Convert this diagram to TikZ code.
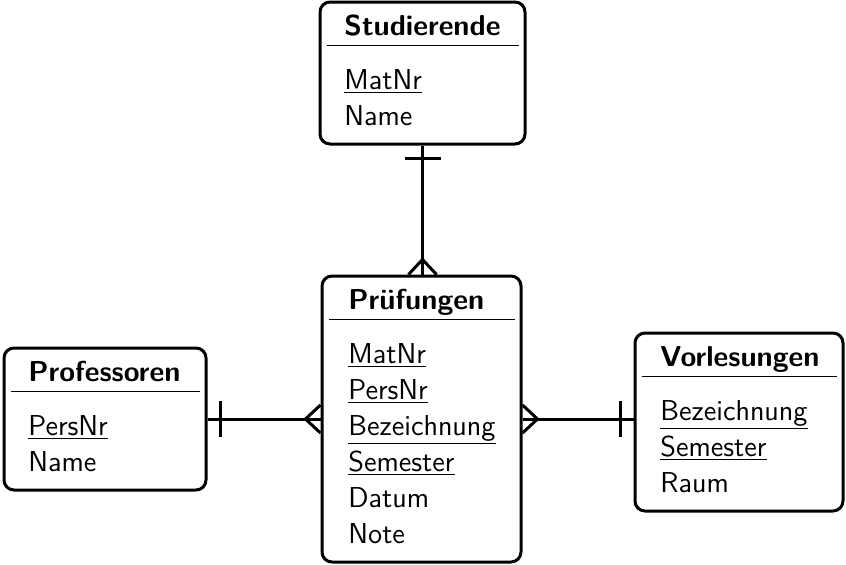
\documentclass[tikz,border=0pt]{standalone}
\usetikzlibrary{fit,calc}
\begin{document}
\begin{tikzpicture}[x=0.5pt,y=-0.5pt,
  entity/.style={draw, line width=1.5pt, rounded corners=5pt, inner sep=0pt},
  title/.style={font=\fontsize{14.4}{17}\selectfont\sffamily\bfseries, inner sep=0pt, anchor=base west},
  attr/.style={font=\fontsize{14.4}{17}\selectfont\sffamily, inner sep=0pt, anchor=base west},
  sepline/.style={line width=0.6pt},
  conn/.style={line width=1.5pt},
]
\useasboundingbox (0,0) rectangle (846,564);

% ---- entity boxes ----
\node[entity, fit={(320,2) (525,144)}] (stud) {};
\node[entity, fit={(322,276) (521,562)}] (pruef) {};
\node[entity, fit={(4,348) (206,490)}] (prof) {};
\node[entity, fit={(635,333) (843,511)}] (vorl) {};

% ---- Studierende ----
\node[title] (studT) at (344,35) {Studierende};
\draw[sepline] ($(stud.north west)+(8,45)$) -- ($(stud.north east)+(-8,45)$);
\node[attr] (studA1) at (344,89) {\underline{MatNr}};
\node[attr] (studA2) at (344,125) {Name};

% ---- Prüfungen ----
\node[title] (pruefT) at (348,309) {Prüfungen};
\draw[sepline] ($(pruef.north west)+(8,45)$) -- ($(pruef.north east)+(-8,45)$);
\node[attr] (pruefA1) at (348,363) {\underline{MatNr}};
\node[attr] (pruefA2) at (348,399) {\underline{PersNr}};
\node[attr] (pruefA3) at (348,435) {\underline{Bezeichnung}};
\node[attr] (pruefA4) at (348,471) {\underline{Semester}};
\node[attr] (pruefA5) at (348,507) {Datum};
\node[attr] (pruefA6) at (348,543) {Note};

% ---- Professoren ----
\node[title] (profT) at (28,381) {Professoren};
\draw[sepline] ($(prof.north west)+(8,45)$) -- ($(prof.north east)+(-8,45)$);
\node[attr] (profA1) at (28,435) {\underline{PersNr}};
\node[attr] (profA2) at (28,471) {Name};

% ---- Vorlesungen ----
\node[title] (vorlT) at (660,366) {Vorlesungen};
\draw[sepline] ($(vorl.north west)+(8,45)$) -- ($(vorl.north east)+(-8,45)$);
\node[attr] (vorlA1) at (660,420) {\underline{Bezeichnung}};
\node[attr] (vorlA2) at (660,456) {\underline{Semester}};
\node[attr] (vorlA3) at (660,492) {Raum};

% ---- relationships ----
% Studierende (one) -- Prüfungen (many)
\coordinate (sp) at (stud.south |- pruef.north);
\draw[conn] (stud.south) -- (sp);
\draw[conn] ($(stud.south)+(-18,13)$) -- ($(stud.south)+(18,13)$);
\draw[conn] ($(sp)+(-14,0)$) -- ($(sp)+(0,-15)$) -- ($(sp)+(14,0)$);

% Professoren (one) -- Prüfungen (many)
\coordinate (pp) at (prof.east -| pruef.west);
\draw[conn] (prof.east) -- (pp);
\draw[conn] ($(prof.east)+(13,-18)$) -- ($(prof.east)+(13,18)$);
\draw[conn] ($(pp)+(0,-14)$) -- ($(pp)+(-15,0)$) -- ($(pp)+(0,14)$);

% Prüfungen (many) -- Vorlesungen (one)
\coordinate (pv) at (prof.east -| pruef.east);
\coordinate (vp) at (prof.east -| vorl.west);
\draw[conn] (pv) -- (vp);
\draw[conn] ($(pv)+(0,-14)$) -- ($(pv)+(15,0)$) -- ($(pv)+(0,14)$);
\draw[conn] ($(vp)+(-13,-18)$) -- ($(vp)+(-13,18)$);
\end{tikzpicture}
\end{document}
